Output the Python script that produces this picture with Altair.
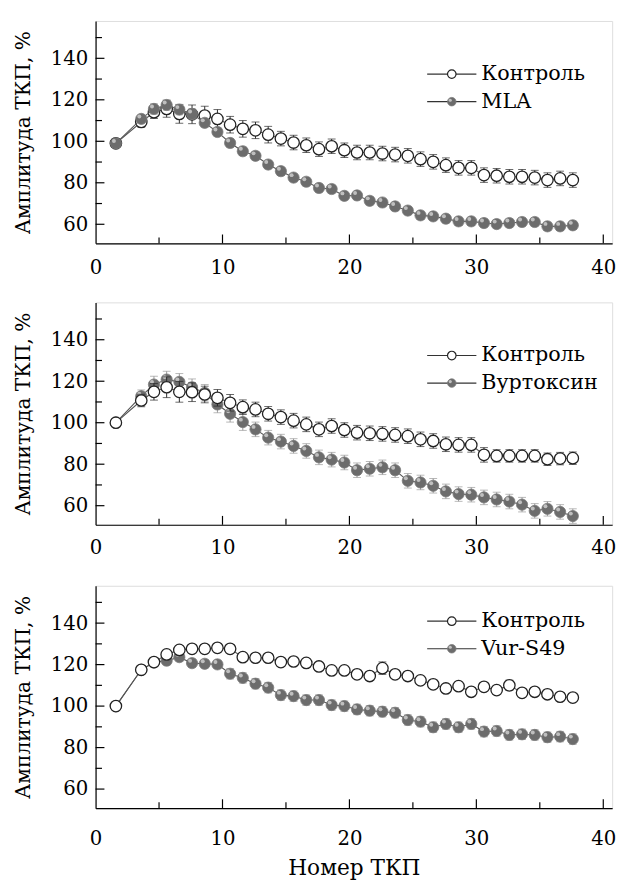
import altair as alt
import pandas as pd

# ---------------- data ----------------
stim_x = [1.6, 3.6, 4.6, 5.6, 6.6, 7.6, 8.6, 9.6, 10.6, 11.6, 12.6, 13.6,
          14.6, 15.6, 16.6, 17.6, 18.6, 19.6, 20.6, 21.6, 22.6, 23.6, 24.6,
          25.6, 26.6, 27.6, 28.6, 29.6, 30.6, 31.6, 32.6, 33.6, 34.6, 35.6,
          36.6, 37.6]

p1_ctrl = [99, 109.3, 114, 115.6, 113.2, 113, 112.4, 110.8, 108, 106, 105.3, 103.2,
           101.3, 99.4, 98.1, 96.2, 97.6, 95.7, 94.6, 94.6, 94.1, 93.6, 93, 91.4,
           90.1, 88.5, 87.2, 87.2, 83.7, 83.4, 82.9, 82.9, 82.5, 81.3, 82.1, 81.3]
p1_ctrl_err = [0, 2.5, 3, 4, 4.5, 4.5, 4.5, 4.5, 4, 4, 4, 4, 3.5, 3.5, 3.5, 3.5, 3.5, 3.5,
               3.5, 3.5, 3.5, 3.5, 3.5, 3.5, 3.5, 3.5, 3.5, 3.5, 3.5, 3.5, 3.5, 3.5, 3.5,
               3.5, 3.5, 3.5]
p1_trt = [99, 110.8, 115.6, 117.5, 115.3, 113.2, 108.9, 104.5, 99.2, 95.2, 93, 88.8,
          85.6, 82.5, 80.5, 77.5, 77, 73.7, 73.9, 71.3, 70.5, 68.6, 66.6, 64.3,
          63.8, 62.7, 61.4, 61.4, 60.6, 60.1, 60.6, 61.1, 61.1, 59, 59, 59.5]
p1_trt_err = [0, 2, 2.5, 2.5, 2.5, 2.5, 2, 2, 2, 2, 2, 2, 2, 2, 2, 2, 2, 2, 2, 2, 2, 2,
              2, 2, 2, 2, 2, 2, 2, 2, 2, 2, 2, 2, 2, 2]

p2_ctrl = [100, 110.7, 114.9, 117.1, 114.9, 114.7, 113.6, 112, 109.6, 107.5, 106.4, 104.3,
           102.7, 101, 99.2, 96.8, 98.4, 96.5, 95.2, 94.9, 94.6, 94.1, 93.5, 92,
           91.2, 89.6, 89.3, 89.3, 84.5, 84, 84, 84, 84, 82.4, 82.7, 82.9]
p2_ctrl_err = [0, 3, 4, 5, 5, 4.5, 4, 4, 4, 3.5, 3.5, 3.5, 3.5, 3.5, 3.5, 3.5, 3.5, 3.5,
               3.5, 3.5, 3.5, 3.5, 3.5, 3.5, 3.5, 3.5, 3.5, 3.5, 3.5, 3, 3, 3, 3, 3, 3, 3]
p2_trt = [100, 112.8, 118.4, 120.8, 119.7, 117.1, 114.4, 108.8, 104.3, 100.3, 96.8, 92.8,
          90.9, 88.8, 86.4, 83.3, 82.2, 80.8, 77.1, 77.8, 78.5, 77.1, 72, 71.2,
          69.6, 66.9, 65.6, 65.3, 64, 63, 62, 60.5, 57.5, 58.5, 57, 55]
p2_trt_err = [0, 3, 4, 4, 4, 4, 4, 4, 4, 4, 3.5, 3.5, 3.5, 3.5, 3.5, 3.5, 3.5, 3.5, 3.5,
              3.5, 3.5, 3.5, 3.5, 3.5, 3.5, 3.5, 3.5, 3.5, 3.5, 3.5, 3.5, 3.5, 3.5, 3.5,
              3.5, 3.5]

p3_ctrl = [100, 117.5, 121.2, 124.9, 127.1, 127.6, 127.6, 128.1, 127.6, 123.6, 123.3, 123.3,
           121.2, 121.5, 120.8, 119.1, 117.2, 117.2, 115.3, 114.5, 118.3, 115.3, 114.5, 112.4,
           110.5, 108.5, 109.6, 106.9, 109.3, 107.7, 110, 106.4, 106.9, 105.7, 104.5, 104.1]
p3_ctrl_err = [0, 1.5, 1.5, 2, 2, 2, 2, 2, 2, 2, 2, 2, 2, 2, 2, 2, 2, 2, 2, 2, 3, 2, 2, 2,
               2, 2, 2, 2, 2, 2, 2.5, 2, 2, 2, 2, 2]
p3_trt = [100, 117.5, 121, 121.9, 123.6, 120.7, 120.4, 120.1, 115.6, 113.6, 110.8, 108.9,
          105.3, 104.8, 102.9, 102.9, 100.5, 100, 98.4, 97.8, 97.3, 96.8, 93.3, 92.5,
          89.8, 91.4, 89.8, 91.4, 87.7, 88, 86.1, 86.4, 86.1, 85, 85.3, 84.1]
p3_trt_err = [0, 1.5, 2, 2, 2, 2, 2, 2, 2.5, 2.5, 2.5, 2.5, 2.5, 2.5, 2.5, 2.5, 2.5, 2.5,
              2.5, 2.5, 2.5, 2.5, 2.5, 2.5, 2.5, 2.5, 2.5, 2.5, 2.5, 2.5, 2.5, 2.5, 2.5,
              2.5, 2.5, 2.5]

ctrl_label = "Контроль"
trt_labels = ["MLA", "Вуртоксин", "Vur-S49"]
y_title = "Амплитуда ТКП, %"
x_title = "Номер ТКП"

x_major = [10, 20, 30, 40]
x_minor = [5, 15, 25, 35]
x_labels = [0, 10, 20, 30, 40]
y_major = [60, 80, 100, 120, 140]
y_minor = [70, 90, 110, 130, 150]

FONT = "DejaVu Serif"
W, H = 525, 226
X_DOM = [0, 40.7]
Y_DOM = [50.8, 158]

xs = alt.Scale(domain=X_DOM, nice=False, zero=False)
ys = alt.Scale(domain=Y_DOM, nice=False, zero=False)


def series_df(vals, errs):
    return pd.DataFrame({
        "x": stim_x,
        "v": vals,
        "lo": [a - b for a, b in zip(vals, errs)],
        "hi": [a + b for a, b in zip(vals, errs)],
    })


def series_layers(df, filled):
    bar_col = "#9a9a9a" if filled else "#2a2a2a"
    base = alt.Chart(df)
    line = base.mark_line(color="#555555", strokeWidth=1.1).encode(
        x=alt.X("x:Q", scale=xs), y=alt.Y("v:Q", scale=ys))
    rule = base.mark_rule(color=bar_col, strokeWidth=1).encode(
        x=alt.X("x:Q", scale=xs), y=alt.Y("lo:Q", scale=ys), y2="hi:Q")
    cap_lo = base.mark_tick(color=bar_col, thickness=1, size=8, orient="horizontal").encode(
        x=alt.X("x:Q", scale=xs), y=alt.Y("lo:Q", scale=ys))
    cap_hi = base.mark_tick(color=bar_col, thickness=1, size=8, orient="horizontal").encode(
        x=alt.X("x:Q", scale=xs), y=alt.Y("hi:Q", scale=ys))
    if filled:
        pts = base.mark_point(shape="circle", filled=True, size=130, fill="#6c6c6c",
                              stroke="#7a7a7a", strokeWidth=0.8, opacity=1).encode(
            x=alt.X("x:Q", scale=xs), y=alt.Y("v:Q", scale=ys))
        hl = base.mark_point(shape="circle", filled=True, size=16, fill="#c9c9c9",
                             opacity=0.9, xOffset=-2, yOffset=-2.5).encode(
            x=alt.X("x:Q", scale=xs), y=alt.Y("v:Q", scale=ys))
        return [line, rule, cap_lo, cap_hi, pts, hl]
    pts = base.mark_point(shape="circle", filled=True, size=135, fill="white",
                          stroke="#222222", strokeWidth=1.3, opacity=1).encode(
        x=alt.X("x:Q", scale=xs), y=alt.Y("v:Q", scale=ys))
    return [line, rule, cap_lo, cap_hi, pts]


def legend_layers(label, ly, filled):
    d = pd.DataFrame({"label": [label]})
    b = alt.Chart(d)
    seg = b.mark_rule(color="#333333", strokeWidth=1.2).encode(
        x=alt.value(337), x2=alt.value(387), y=alt.value(ly))
    if filled:
        mk = b.mark_point(shape="circle", filled=True, size=75, fill="#6c6c6c",
                          stroke="#7a7a7a", strokeWidth=0.8, opacity=1).encode(
            x=alt.value(362), y=alt.value(ly))
        hl = b.mark_point(shape="circle", filled=True, size=10, fill="#cccccc",
                          opacity=0.9).encode(x=alt.value(360.5), y=alt.value(ly - 1.5))
        extra = [mk, hl]
    else:
        mk = b.mark_point(shape="circle", filled=True, size=75, fill="white",
                          stroke="#222222", strokeWidth=1.2, opacity=1).encode(
            x=alt.value(362), y=alt.value(ly))
        extra = [mk]
    txt = b.mark_text(font=FONT, fontSize=21, align="left", baseline="middle",
                      color="black").encode(
        x=alt.value(392), y=alt.value(ly), text="label:N")
    return [seg] + extra + [txt]


def tick_layers():
    xM = alt.Chart(pd.DataFrame({"t": x_major})).mark_rule(color="black", strokeWidth=1.2).encode(
        x=alt.X("t:Q", scale=xs), y=alt.value(H), y2=alt.value(H - 9))
    xm = alt.Chart(pd.DataFrame({"t": x_minor})).mark_rule(color="black", strokeWidth=1.2).encode(
        x=alt.X("t:Q", scale=xs), y=alt.value(H), y2=alt.value(H - 6))
    yM = alt.Chart(pd.DataFrame({"t": y_major})).mark_rule(color="black", strokeWidth=1.2).encode(
        y=alt.Y("t:Q", scale=ys), x=alt.value(0), x2=alt.value(9))
    ym = alt.Chart(pd.DataFrame({"t": y_minor})).mark_rule(color="black", strokeWidth=1.2).encode(
        y=alt.Y("t:Q", scale=ys), x=alt.value(0), x2=alt.value(6.5))
    return [xM, xm, yM, ym]


def panel(ctrl, ctrl_err, trt, trt_err, trt_label, ly, trt_on_top, show_xtitle, lab_pad):
    axis_df = pd.DataFrame({"x": stim_x, "v": ctrl})
    axes = alt.Chart(axis_df).mark_point(opacity=0).encode(
        x=alt.X("x:Q", scale=xs,
                axis=alt.Axis(values=x_labels, format="d", ticks=False, tickSize=0,
                              grid=False, domainColor="black", domainWidth=1.2,
                              labelFont=FONT, labelFontSize=20, labelColor="black",
                              labelPadding=lab_pad, labelFlush=False,
                              title=x_title if show_xtitle else None,
                              titleFont=FONT, titleFontSize=22, titleFontWeight="normal",
                              titleColor="black", titlePadding=9)),
        y=alt.Y("v:Q", scale=ys,
                axis=alt.Axis(values=y_major, format="d", ticks=False, tickSize=0,
                              grid=False, domainColor="black", domainWidth=1.2,
                              labelFont=FONT, labelFontSize=20, labelColor="black",
                              labelPadding=8, title=y_title,
                              titleFont=FONT, titleFontSize=20.5, titleFontWeight="normal",
                              titleColor="black", titleX=-73, titleY=H / 2,
                              titleBaseline="middle", titleAlign="center", titleAngle=270)),
    )
    c_layers = series_layers(series_df(ctrl, ctrl_err), filled=False)
    t_layers = series_layers(series_df(trt, trt_err), filled=True)
    data_layers = (c_layers + t_layers) if trt_on_top else (t_layers + c_layers)
    leg = legend_layers(ctrl_label, ly, False) + legend_layers(trt_label, ly + 28, True)
    return alt.layer(axes, *tick_layers(), *data_layers, *leg).properties(width=W, height=H)


p1 = panel(p1_ctrl, p1_ctrl_err, p1_trt, p1_trt_err, trt_labels[0], 54, True, False, 15)
p2 = panel(p2_ctrl, p2_ctrl_err, p2_trt, p2_trt_err, trt_labels[1], 54, False, False, 13)
p3 = panel(p3_ctrl, p3_ctrl_err, p3_trt, p3_trt_err, trt_labels[2], 36, False, True, 21)

top = alt.vconcat(p1, p2, spacing=23)
chart = alt.vconcat(top, p3, spacing=27).configure_view(stroke=None).configure(
    background="white")

chart.save("out.html", embed_options={"renderer": "svg", "actions": False})
